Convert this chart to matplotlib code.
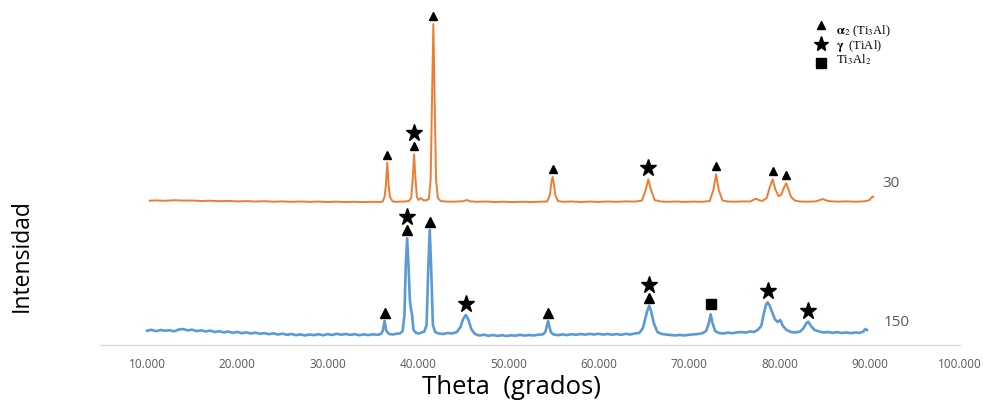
import numpy as np
import matplotlib
matplotlib.use("Agg")
import matplotlib.pyplot as plt

plt.rcParams["mathtext.fontset"] = "stix"

# ---- XRD traces (2-theta, intensity in arbitrary units) ----
theta_30 = [10.3, 11, 12, 13, 14, 15, 16, 17, 18, 19, 20, 21, 22, 23, 24, 25, 26, 27, 28, 29,
            30, 31, 32, 33, 34, 35, 35.8, 36.1, 36.3, 36.45, 36.6, 36.75, 36.9, 37.2, 37.6, 38,
            38.5, 39.0, 39.25, 39.42, 39.57, 39.72, 39.88, 40.05, 40.3, 40.55, 40.9, 41.2, 41.4,
            41.55, 41.7, 41.85, 42.0, 42.2, 42.5, 43, 44, 45, 45.4, 45.8, 46.5, 47.5, 48.5, 49.5,
            50.5, 51.5, 52.5, 53.5, 54.3, 54.6, 54.75, 54.9, 55.05, 55.2, 55.5, 56, 57, 58, 59,
            60, 61, 62, 63, 64, 64.8, 65.2, 65.5, 65.8, 66.2, 66.8, 67.5, 68.5, 69.5, 70.5, 71.5,
            72.3, 72.7, 73.0, 73.3, 73.7, 74.3, 75, 76, 76.8, 77.2, 77.4, 77.7, 78.1, 78.6, 78.95,
            79.25, 79.55, 79.9, 80.2, 80.5, 80.76, 81.0, 81.3, 81.7, 82.3, 83, 84, 84.5, 84.8,
            85.1, 85.6, 86.5, 87.5, 88.5, 89.5, 90.0, 90.2, 90.4]
int_30 = [144.3, 144.6, 144.2, 144.8, 144.4, 144.5, 144.0, 144.3, 143.8, 144.1, 143.6, 143.9,
          143.5, 143.8, 143.3, 143.6, 143.2, 143.5, 143.1, 143.4, 143.0, 143.3, 143.0, 143.2,
          142.9, 143.2, 143.0, 143.5, 148, 160, 182.3, 160, 148, 143.5, 143.2, 143.4,
          143.5, 144, 147, 166, 190.7, 166, 148, 145, 147, 145, 144.5, 146, 165,
          245, 321, 245, 165, 147, 144, 143.5, 143.3, 143.8, 145, 143.6, 143.2, 143.5, 143.0, 143.3,
          142.9, 143.2, 143.0, 143.3, 143.5, 150, 161, 168.3, 161, 150, 144, 143.2, 143.5, 143.0, 143.4,
          143.1, 143.5, 143.2, 143.6, 143.4, 144.5, 155, 165.7, 155, 145, 143.6, 143.2, 143.5, 143.1, 143.4, 143.2,
          144, 155, 170.7, 155, 144.5, 143.5, 143.3, 143.6, 143.5, 145.5, 146.3, 145, 144, 147, 158,
          165.7, 156, 149, 150, 157, 161.7, 156, 148, 144.5, 143.5, 143.3, 143.6, 145, 146,
          144.8, 143.7, 143.4, 143.6, 143.3, 143.7, 145, 147.5, 148.3]

theta_150 = [10.0, 10.5, 11, 11.5, 12, 12.5, 13, 13.5, 14, 14.5, 15, 15.5, 16, 16.5, 17, 17.5,
             18, 18.5, 19, 19.5, 20, 20.5, 21, 21.5, 22, 22.5, 23, 23.5, 24, 24.5, 25, 25.5,
             26, 26.5, 27, 27.5, 28, 28.5, 29, 29.5, 30, 30.5, 31, 31.5, 32, 32.5, 33, 33.5,
             34, 34.5, 35, 35.5, 35.9, 36.1, 36.3, 36.5, 36.8, 37.2, 37.6, 38.0, 38.3, 38.5,
             38.65, 38.8, 38.95, 39.1, 39.2, 39.35, 39.5, 39.8, 40.1, 40.4, 40.7, 40.95, 41.15,
             41.3, 41.45, 41.65, 41.9, 42.3, 42.8, 43.3, 43.8, 44.3, 44.7, 45.0, 45.3, 45.6,
             45.9, 46.3, 46.8, 47.3, 47.8, 48.3, 48.8, 49.3, 49.8, 50.3, 50.8, 51.3, 51.8, 52.3,
             52.8, 53.3, 53.8, 54.1, 54.4, 54.7, 55.0, 55.5, 56, 56.5, 57, 57.5, 58, 58.5, 59,
             59.5, 60, 60.5, 61, 61.5, 62, 62.5, 63, 63.5, 64, 64.5, 64.9, 65.2, 65.45, 65.6,
             65.8, 66.1, 66.5, 67, 67.5, 68, 68.5, 69, 69.5, 70, 70.5, 71, 71.5, 71.9, 72.2,
             72.4, 72.6, 72.9, 73.3, 73.8, 74.3, 74.8, 75.3, 75.8, 76.3, 76.8, 77.2, 77.6, 78.0,
             78.3, 78.55, 78.7, 78.9, 79.2, 79.5, 79.8, 80.1, 80.4, 80.8, 81.3, 81.8, 82.3, 82.7,
             83.0, 83.2, 83.5, 83.9, 84.4, 84.9, 85.4, 85.9, 86.4, 86.9, 87.4, 87.9, 88.4, 88.9,
             89.3, 89.5, 89.7]
int_150 = [14.3, 15.2, 13.8, 15, 14.2, 14.8, 13.6, 15.4, 16, 14.6, 15.3, 13.9, 14.7, 13.5, 14.4, 13,
           13.8, 12.6, 13.5, 12.2, 13.1, 11.8, 12.6, 11.5, 12.4, 11.2, 11.9, 10.8, 11.6, 10.5, 11.3, 10.2,
           11, 9.8, 10.6, 9.6, 10.5, 9.9, 10.8, 9.7, 10.9, 10, 11.2, 10.3, 11, 10.1, 10.8, 9.8,
           10.6, 9.9, 10.7, 10.2, 11, 14, 24, 14, 11, 10.5, 11.2, 11.5, 14, 30,
           80, 106.7, 80, 45, 37, 30, 15, 12, 11.5, 12.5, 13.5, 20, 80,
           115, 80, 20, 13, 11.5, 11, 12, 11.5, 13, 18, 26, 30, 25,
           16, 11, 9.5, 10.3, 9.2, 10, 9.1, 9.8, 9, 9.7, 9.3, 10.2, 9.4, 10,
           9.5, 10.3, 10.5, 13, 24, 13, 10.5, 9.8, 10.6, 9.9, 10.8, 10.2, 11, 10.4, 11.1,
           10.5, 11.2, 10.4, 11, 10.3, 10.9, 10.2, 11.2, 10.5, 11.5, 12, 17, 28, 36, 39.3,
           34, 22, 13, 11, 10.4, 10, 9.6, 10.1, 9.5, 10.2, 10.6, 11, 11.8, 14, 22,
           30.7, 22, 14, 12, 11.5, 12.3, 11.8, 12.6, 13, 12.4, 13.6, 13, 15, 19,
           32, 41, 42.7, 40, 33, 26, 23, 25, 19, 15, 13, 12.5, 13.5, 17,
           22, 23.3, 19, 15, 13.5, 12.5, 13, 12.2, 12.9, 12, 12.6, 11.8, 12.5, 12.2,
           13.5, 16, 15]

# ---- phase identification of the peaks (bottom-to-top symbol stacks) ----
peaks_30 = [(36.6, ["a2"]), (39.57, ["a2", "g"]), (41.7, ["a2"]), (54.9, ["a2"]),
            (65.5, ["g"]), (73.0, ["a2"]), (79.25, ["a2"]), (80.76, ["a2"])]
peaks_150 = [(36.3, ["a2"]), (38.8, ["a2", "g"]), (41.3, ["a2"]), (45.3, ["g"]),
             (54.4, ["a2"]), (65.6, ["a2", "g"]), (72.4, ["t"]), (78.7, ["g"]), (83.2, ["g"])]

series_labels = ["30", "150"]
x_ticks = [10, 20, 30, 40, 50, 60, 70, 80, 90, 100]
phase_names = [r"$\mathbf{\alpha}_2$ (Ti$_3$Al)", r"$\mathbf{\gamma}$  (TiAl)", r"Ti$_3$Al$_2$"]

ORANGE = "#ED7D31"
BLUE = "#5B9BD5"
GREY = "#595959"

marker_style = {"a2": ("^", 5.8), "g": ("*", 12.5), "t": ("s", 7)}
first_gap = {"a2": 8, "g": 11, "t": 10}

fig = plt.figure(figsize=(9.83, 4.05), dpi=100)
ax = fig.add_axes([100 / 983, 60 / 405, 860 / 983, 345 / 405])

ax.plot(theta_30, int_30, color=ORANGE, lw=1.4, solid_joinstyle="round")
ax.plot(theta_150, int_150, color=BLUE, lw=1.9, solid_joinstyle="round")


def mark_peaks(theta, inten, peaks, big):
    for pos, stack in peaks:
        y = np.interp(pos, theta, inten)
        for k, ph in enumerate(stack):
            m, ms = marker_style[ph]
            if big and ph == "a2":
                ms = 7.3
            if k == 0:
                y += first_gap[ph]
            else:
                y += 13
            ax.plot(pos, y, marker=m, ms=ms, color="black", mec="black", ls="none")


mark_peaks(theta_30, int_30, peaks_30, big=False)
mark_peaks(theta_150, int_150, peaks_150, big=True)

# series labels at the right end of each trace
ax.text(theta_30[-1] + 1.0, int_30[-1] + 13, series_labels[0], color=GREY,
        fontsize=11, family="Open Sans", va="center", ha="left")
ax.text(theta_150[-1] + 1.8, int_150[-1] + 7, series_labels[1], color=GREY,
        fontsize=11, family="Open Sans", va="center", ha="left")

# phase key
key_x_marker = 4.8 + (821 - 100) / 9.033
key_x_text = 4.8 + (836 - 100) / 9.033
key_marker_y = [345 - 25, 345 - 44, 345 - 63]
key_text_y = [345 - 31, 345 - 46, 345 - 60]
key_sizes = {"a2": 5.5, "g": 11, "t": 6.5}
for (code, ty, my, name) in zip(["a2", "g", "t"], key_text_y, key_marker_y, phase_names):
    m, _ = marker_style[code]
    ax.plot(key_x_marker, my, marker=m, ms=key_sizes[code], color="black", ls="none",
            clip_on=False)
    ax.text(key_x_text, ty, name, fontsize=9, family="Liberation Serif", va="center", ha="left")

ax.set_xlim(4.8, 100)
ax.set_ylim(0, 345)
ax.set_xticks(x_ticks)
ax.set_xticklabels([f"{t:.3f}" for t in x_ticks], color=GREY, fontsize=8.5, family="Open Sans")
ax.tick_params(axis="x", length=0, pad=9)
ax.set_yticks([])
for s in ["top", "right", "left"]:
    ax.spines[s].set_visible(False)
ax.spines["bottom"].set_color("#D9D9D9")
ax.spines["bottom"].set_linewidth(1.0)

fig.text(512 / 983, 1 - 388 / 405, "Theta  (grados)", fontsize=18.5, family="Open Sans",
         ha="center", va="center")
fig.text(22 / 983, 1 - 256 / 405, "Intensidad", fontsize=16.5, family="Open Sans",
         ha="center", va="center", rotation=90)

fig.savefig("out.png", dpi=100)
